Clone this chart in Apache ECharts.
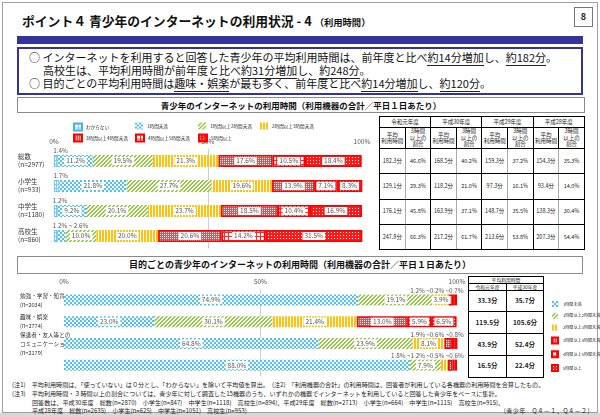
<!DOCTYPE html>
<html><head><meta charset="utf-8">
<script src="https://cdn.jsdelivr.net/npm/echarts@6/dist/echarts.min.js"></script>
<style>
html,body{margin:0;padding:0;background:#fff;}
body{width:600px;height:417px;position:relative;overflow:hidden;font-family:"Noto Sans CJK JP","Noto Sans",sans-serif;color:#222;}
.a{position:absolute;white-space:nowrap;}
#chart{position:absolute;left:0;top:0;width:600px;height:417px;z-index:5;}
#frame{position:absolute;left:2px;top:2px;width:594px;height:409px;border:1px solid #a0a0a0;}
#shadow{position:absolute;left:0;top:413px;width:600px;height:4px;background:#d8d8d8;}
#title{left:22px;top:11px;font-size:12.8px;font-weight:bold;color:#111;}
#title small{font-size:9.3px;}
#pno{left:574px;top:7px;width:17px;height:18px;border:1px solid #777;font-size:9px;font-weight:bold;text-align:center;line-height:18px;}
#bar{left:17px;top:36px;width:566px;height:8px;background:#333399;}
#box{left:17px;top:47px;width:562px;height:42px;border:2px solid #333399;font-size:11px;line-height:13px;padding-top:2px;color:#111;}
#box u{text-decoration:none;border-bottom:1px solid #222;}
.tbox{border:1px solid #8a8a8a;font-size:8.5px;font-weight:bold;text-align:center;color:#111;}
table{border-collapse:collapse;table-layout:fixed;position:absolute;}
td{padding:0;text-align:center;vertical-align:middle;color:#222;overflow:hidden;}
#t1 td{border:1px solid #000;font-size:5.5px;line-height:6.5px;}
#t1 td.g{border-right:1px solid #aaa;}
#t1 td.y{border-left:1.5px solid #000;}
#t2 td{border:1px solid #000;font-size:4.8px;line-height:5.5px;}
#t2 td.d{font-size:6.5px;font-weight:bold;}
.note{font-size:6.1px;color:#222;}
</style></head>
<body>
<div id="frame"></div><div id="shadow"></div>
<div id="title" class="a">ポイント４ 青少年のインターネットの利用状況 - 4 <small>（利用時間）</small></div>
<div id="pno" class="a">8</div>
<div id="bar" class="a"></div>
<div id="box" class="a">
<div style="padding-left:10px">○ インターネットを利用すると回答した青少年の平均利用時間は、前年度と比べ<u>約14分増加</u>し、<u>約182分</u>。</div>
<div style="padding-left:24px">高校生は、平均利用時間が前年度と比べ<u>約31分増加</u>し、<u>約248分</u>。</div>
<div style="padding-left:10px">○ 目的ごとの平均利用時間は<u>趣味・娯楽</u>が最も多く、前年度と比べ<u>約14分増加</u>し、<u>約120分</u>。</div>
</div>
<div class="a tbox" style="left:17px;top:97px;width:566px;height:14px;line-height:14px;">青少年のインターネットの利用時間（利用機器の合計／平日１日あたり）</div>
<div class="a tbox" style="left:17px;top:256px;width:564px;height:16px;line-height:16px;font-size:9px;">目的ごとの青少年のインターネットの利用時間（利用機器の合計／平日１日あたり）</div>
<table id="t1" style="left:379px;top:116px;width:205px;height:133px;"></table>
<table id="t2" style="left:468px;top:276px;width:75px;height:100px;"></table>
<div class="a note" style="left:12px;top:380px;">(注1)　平均利用時間は、「使っていない」は０分とし、「わからない」を除いて平均値を算出。　(注2)　「利用機器の合計」の利用時間は、回答者が利用している各機器の利用時間を合算したもの。</div>
<div class="a note" style="left:12px;top:389px;">(注3)　平均利用時間・３時間以上の割合については、青少年に対して調査した15機器のうち、いずれかの機器でインターネットを利用していると回答した青少年をベースに集計。</div>
<div class="a note" style="left:32px;top:398px;">回答数は、平成30年度　総数(n=2870)　小学生(n=847)　中学生(n=1118)　高校生(n=894)、平成29年度　総数(n=2713)　小学生(n=664)　中学生(n=1115)　高校生(n=915)、</div>
<div class="a note" style="left:32px;top:406px;">平成28年度　総数(n=2635)　小学生(n=625)　中学生(n=1051)　高校生(n=953)</div>
<div class="a note" style="right:10px;top:406px;letter-spacing:0.4px;">(青少年　Q４－１、Q４－２)</div>
<div id="chart"></div>
<script>
// ---------------- data ----------------
const seriesNames = ['わからない','1時間未満','1時間以上2時間未満','2時間以上3時間未満','3時間以上4時間未満','4時間以上5時間未満','5時間以上'];
const topGroups = ['総数','小学生','中学生','高校生'];
const topN = ['n=2977','n=933','n=1180','n=860'];
const topWakaranai = [1.4, 1.7, 1.2, 1.2];
const topUnder1 = [11.2, 21.8, 9.2, 2.6];
const top1to2 = [19.5, 27.7, 20.1, 10.0];
const top2to3 = [21.3, 19.6, 23.7, 20.0];
const top3to4 = [17.6, 13.9, 18.5, 20.6];
const top4to5 = [10.5, 7.1, 10.4, 14.2];
const top5plus = [18.4, 8.3, 16.9, 31.5];

const purposeGroups = ['勉強・学習・知育','趣味・娯楽','保護者・友人等との\nコミュニケーション','上記以外'];
const purposeN = ['n=2034','n=2774','n=2179','n=1170'];
const purUnder1 = [74.9, 23.0, 64.8, 88.0];
const pur1to2 = [19.1, 30.1, 23.9, 7.9];
const pur2to3 = [3.9, 21.4, 8.1, 1.8];
const pur3to4 = [1.2, 13.0, 1.9, 1.2];
const pur4to5 = [0.2, 5.9, 0.6, 0.5];
const pur5plus = [0.7, 6.5, 0.8, 0.6];

const xTickValues = [0, 50, 100];
const tableYears = ['令和元年度','平成30年度','平成29年度','平成28年度'];
const avgMinutes = [[182.3,168.5,159.3,154.3],[129.1,118.2,97.3,93.4],[176.1,163.9,148.7,138.3],[247.8,217.2,213.6,207.3]];
const over3Share = [[46.6,40.2,37.2,35.3],[29.3,21.0,16.1,14.0],[45.8,37.1,35.5,30.4],[66.3,61.7,53.8,54.4]];
const purposeAvgR1 = [33.3, 119.5, 43.9, 16.5];
const purposeAvgH30 = [35.7, 105.6, 52.4, 22.4];

// ---------------- tables ----------------
(function(){
  const t1 = document.getElementById('t1');
  let h = '<colgroup>' + '<col style="width:25.6px">'.repeat(8) + '</colgroup>';
  h += '<tr style="height:11px">' + tableYears.map((y,i)=>'<td colspan="2"'+(i? ' class="y"':'')+'>'+y+'</td>').join('') + '</tr>';
  h += '<tr style="height:21px">' + tableYears.map((y,i)=>'<td'+(i?' class="y"':'')+'>平均<br>利用時間</td><td>3時間<br>以上の<br>割合</td>').join('') + '</tr>';
  avgMinutes.forEach((row,r)=>{
    h += '<tr style="height:25.25px">' + row.map((v,i)=>'<td class="g'+(i?' y':'')+'">'+v.toFixed(1)+'分</td><td>'+over3Share[r][i].toFixed(1)+'%</td>').join('') + '</tr>';
  });
  t1.innerHTML = h;
  const t2 = document.getElementById('t2');
  let k = '<colgroup><col style="width:38px"><col style="width:37px"></colgroup>';
  k += '<tr style="height:6px"><td colspan="2">平均利用時間</td></tr>';
  k += '<tr style="height:7px"><td>令和元年度</td><td>平成30年度</td></tr>';
  purposeAvgR1.forEach((v,i)=>{ k += '<tr style="height:21.75px"><td class="d">'+v.toFixed(1)+'分</td><td class="d">'+purposeAvgH30[i].toFixed(1)+'分</td></tr>'; });
  t2.innerHTML = k;
})();

// ---------------- patterns ----------------
function pat(w,h,bg,fg,px){
  const c=document.createElement('canvas'); c.width=w; c.height=h;
  const g=c.getContext('2d'); g.fillStyle=bg; g.fillRect(0,0,w,h); g.fillStyle=fg;
  px.forEach(p=>g.fillRect(p[0],p[1],p[2]||1,p[3]||1));
  return {image:c, repeat:'repeat'};
}
const styles = [
  {color: pat(4,4,'#ffffff','#7ccff2',[[0,0,4,1],[0,0,1,4]]), borderColor:'#45b4ea', borderWidth:0.8},
  {color: pat(4,4,'#ffffff','#50c2f2',[[0,0,2,2],[2,2,2,2]]), borderWidth:0},
  {color: pat(4,4,'#ffffff','#94c943',[[0,3],[1,2],[2,1],[3,0],[0,2],[1,1],[2,0],[3,3]]), borderWidth:0},
  {color: pat(3,1,'#ffffff','#ffc20e',[[0,0,2,1]]), borderWidth:0},
  {color: pat(4,4,'#ff4646','#ffffff',[[0,0],[2,2],[0,2],[2,0]]), borderColor:'#ff0000', borderWidth:1.5},
  {color: pat(4,4,'#ffffff','#ff2a2a',[[0,0,4,1],[0,0,1,4]]), borderColor:'#ff0000', borderWidth:1.5},
  {color: pat(3,3,'#ff1a1a','#ffffff',[[1,1]]), borderColor:'#ff0000', borderWidth:1.5}
];
const inLabel = {show:true, position:'inside', formatter:p=>p.value.toFixed(1)+'%', fontSize:6.5, color:'#555',
  backgroundColor:'#fff', padding:[1,2,0,2], lineHeight:7, fontFamily:'"Noto Sans CJK JP", sans-serif'};
const outLabelBase = {show:true, position:'top', fontSize:6.3, color:'#555', distance:1.5, fontFamily:'"Noto Sans CJK JP", sans-serif'};

const topSets = [topWakaranai, topUnder1, top1to2, top2to3, top3to4, top4to5, top5plus];
const purSets = [purUnder1, pur1to2, pur2to3, pur3to4, pur4to5, pur5plus];
const SMALL = 3;
const fmt = v => v.toFixed(1)+'%';

const series = [];
topSets.forEach((arr, s)=>{
  series.push({
    name: seriesNames[s], type:'bar', stack:'top', xAxisIndex:0, yAxisIndex:0, barWidth:12,
    itemStyle: styles[s],
    data: arr.map((v,c)=>{
      if (s===0){
        const lead=[]; for(let j=0;j<topSets.length && topSets[j][c]<SMALL;j++) lead.push(fmt(topSets[j][c]));
        return {value:v, label:Object.assign({}, outLabelBase, {align:'left', offset:[-3,0], formatter: lead.join(' ~ ')})};
      }
      if (v<SMALL) return {value:v, label:{show:false}};
      return {value:v, label:inLabel};
    })
  });
});
purSets.forEach((arr, k)=>{
  const s = k+1;
  series.push({
    name: seriesNames[s], type:'bar', stack:'pur', xAxisIndex:1, yAxisIndex:1, barWidth:11,
    itemStyle: styles[s],
    data: arr.map((v,c)=>{
      if (k===purSets.length-1){
        const tail=[]; for(let j=purSets.length-1;j>=0 && purSets[j][c]<SMALL;j--) tail.unshift(fmt(purSets[j][c]));
        if (tail.length>1) return {value:v, label:Object.assign({}, outLabelBase, {align:'right', offset:[8,0], distance:0.5, formatter: tail.join(' ~')})};
      }
      if (v<SMALL) return {value:v, label:{show:false}};
      return {value:v, label:inLabel};
    })
  });
});

const xAxisCommon = {type:'value', min:xTickValues[0], max:xTickValues[xTickValues.length-1], interval:xTickValues[1]-xTickValues[0], position:'top',
  axisLine:{show:false}, axisTick:{show:false},
  axisLabel:{formatter:'{value}%', fontSize:6.5, color:'#555', margin:4},
  splitLine:{show:true, lineStyle:{color:['rgba(0,0,0,0)','#cfcfcf','rgba(0,0,0,0)'], width:1}}};
const yLabTop = {align:'left', fontSize:6.5, lineHeight:8, color:'#333', fontFamily:'"Noto Sans CJK JP", sans-serif'};
const yLabBot = {align:'left', fontSize:5.6, lineHeight:9, color:'#333', fontFamily:'"Noto Sans CJK JP", sans-serif'};

const legendBase = {icon:'rect', itemWidth:8, itemHeight:7, textStyle:{fontSize:4.6, color:'#333', padding:[0,0,0,-1]}, selectedMode:false};
const topLegendPos = [[68,117.5],[130,117.5],[193,117.5],[255,117.5],[68,128.5],[130,128.5],[193,128.5]];
const legends = topLegendPos.map((p,i)=>Object.assign({}, legendBase, {left:p[0], top:p[1], data:[seriesNames[i]]}));
legends.push(Object.assign({}, legendBase, {orient:'vertical', left:546, top:296, itemWidth:6, itemHeight:6, itemGap:5.8,
  textStyle:{fontSize:4.1, color:'#333'}, data:seriesNames.slice(1)}));

const chart = echarts.init(document.getElementById('chart'), null, {renderer:'canvas'});
chart.setOption({
  animation:false,
  backgroundColor:'transparent',
  textStyle:{fontFamily:'"Noto Sans CJK JP", sans-serif'},
  legend: legends,
  grid:[
    {left:54, top:148.5, width:308, height:100, outerBoundsMode:'none', containLabel:false},
    {left:64, top:289, width:393, height:87, outerBoundsMode:'none', containLabel:false}
  ],
  xAxis:[Object.assign({gridIndex:0}, xAxisCommon), Object.assign({gridIndex:1}, xAxisCommon)],
  yAxis:[
    {type:'category', gridIndex:0, inverse:true, data: topGroups.map((g,i)=>g+'\n('+topN[i]+')'),
      axisLine:{show:false}, axisTick:{show:false}, axisLabel:Object.assign({margin:36}, yLabTop)},
    {type:'category', gridIndex:1, inverse:true, data: purposeGroups.map((g,i)=>g+'\n('+purposeN[i]+')'),
      axisLine:{show:false}, axisTick:{show:false}, axisLabel:Object.assign({margin:44}, yLabBot)}
  ],
  series: series
});
</script>
</body></html>
